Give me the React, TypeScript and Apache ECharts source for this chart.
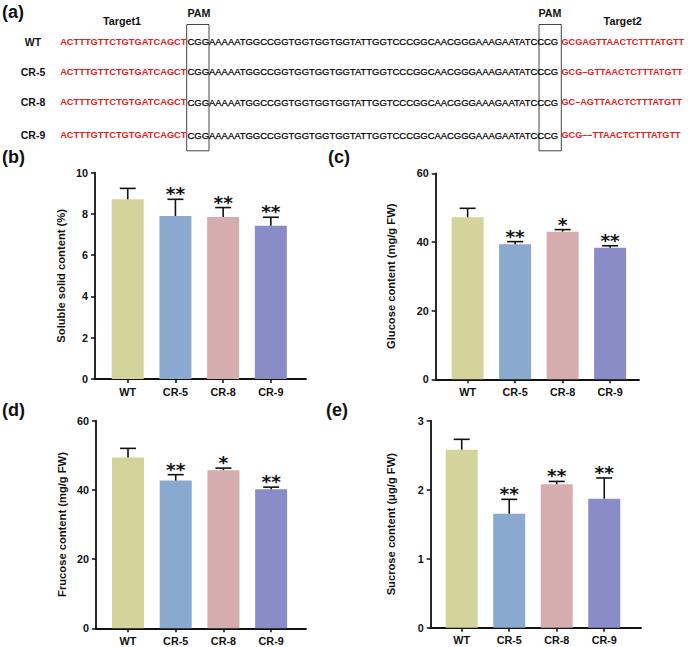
import React, { useEffect, useRef } from "react";
import * as echarts from "echarts";

// ---------- data ----------
const categories = ["WT", "CR-5", "CR-8", "CR-9"];
const barColors = ["#d3d49b", "#89a9cf", "#d6adae", "#8a8cc8"];

const solubleMean = [8.71, 7.9, 7.85, 7.43];
const solubleSd = [0.53, 0.81, 0.46, 0.41];
const solubleStars = ["", "**", "**", "**"];

const glucoseMean = [47.2, 39.3, 43.0, 38.3];
const glucoseSd = [2.6, 0.8, 0.6, 0.6];
const glucoseStars = ["", "**", "*", "**"];

const fructoseMean = [49.4, 42.7, 45.7, 40.2];
const fructoseSd = [2.6, 1.7, 0.6, 0.6];
const fructoseStars = ["", "**", "*", "**"];

const sucroseMean = [2.58, 1.65, 2.08, 1.87];
const sucroseSd = [0.15, 0.21, 0.04, 0.3];
const sucroseStars = ["", "**", "**", "**"];

const rowLabels = ["WT", "CR-5", "CR-8", "CR-9"];
const target1 = "ACTTTGTTCTGTGATCAGCT";
const pam1 = "CGG";
const spacer = "AAAAATGGCCGGTGGTGGTGGTATTGGTCCCGGCAACGGGAAAGAATATC";
const pam2 = "CCG";
const target2 = [
  "GCGAGTTAACTCTTTATGTT",
  "GCG\u2013GTTAACTCTTTATGTT",
  "GC\u2013AGTTAACTCTTTATGTT",
  "GCG\u2013\u2013TTAACTCTTTATGTT",
];

// ---------- layout ----------
const FONT = "Liberation Sans, Arial, sans-serif";
const rowY = [41.5, 71.5, 102, 135];

const panels = [
  { tag: "(b)", tagX: 2, tagY: 157, grid: { left: 95, top: 172.7, width: 211, height: 206.3 }, xMin: 0.314, xMax: 4.737, yMax: 10, yInt: 2, name: "Soluble solid content (%)", nameGap: 29, mean: solubleMean, sd: solubleSd, stars: solubleStars },
  { tag: "(c)", tagX: 328, tagY: 157, grid: { left: 435.7, top: 173.3, width: 203.3, height: 206 }, xMin: 0.328, xMax: 4.608, yMax: 60, yInt: 20, name: "Glucose content (mg/g FW)", nameGap: 39, mean: glucoseMean, sd: glucoseSd, stars: glucoseStars },
  { tag: "(d)", tagX: 2, tagY: 410, grid: { left: 96, top: 420.7, width: 210, height: 207.6 }, xMin: 0.329, xMax: 4.731, yMax: 60, yInt: 20, name: "Frucose content (mg/g FW)", nameGap: 28.5, mean: fructoseMean, sd: fructoseSd, stars: fructoseStars },
  { tag: "(e)", tagX: 326, tagY: 410, grid: { left: 430.7, top: 420.7, width: 210.3, height: 207 }, xMin: 0.347, xMax: 4.774, yMax: 3, yInt: 1, name: "Sucrose content (\u03bcg/g FW)", nameGap: 34, mean: sucroseMean, sd: sucroseSd, stars: sucroseStars },
];

function buildOption() {
  const grid: any[] = [];
  const xAxis: any[] = [];
  const yAxis: any[] = [];
  const series: any[] = [];
  const graphic: any[] = [];

  panels.forEach((p, gi) => {
    grid.push({ ...p.grid, containLabel: false });
    xAxis.push({
      type: "value",
      gridIndex: gi,
      min: p.xMin,
      max: p.xMax,
      splitLine: { show: false },
      axisLine: { show: true, onZero: false, lineStyle: { color: "#111", width: 1.8 } },
      axisTick: { show: true, customValues: [1, 2, 3, 4], length: 4, lineStyle: { color: "#111", width: 1.5 } },
      axisLabel: {
        show: true,
        customValues: [1, 2, 3, 4],
        formatter: (v: number) => categories[Math.round(v) - 1] ?? "",
        color: "#111",
        fontSize: 10.8,
        fontWeight: "bold",
        fontFamily: FONT,
        margin: 7,
      },
    });
    yAxis.push({
      type: "value",
      gridIndex: gi,
      min: 0,
      max: p.yMax,
      interval: p.yInt,
      name: p.name,
      nameLocation: "middle",
      nameGap: p.nameGap,
      nameRotate: 90,
      nameTextStyle: { color: "#111", fontSize: 11.2, fontWeight: "bold", fontFamily: FONT },
      splitLine: { show: false },
      axisLine: { show: true, onZero: false, lineStyle: { color: "#111", width: 1.8 } },
      axisTick: { show: true, length: 4, lineStyle: { color: "#111", width: 1.5 } },
      axisLabel: { color: "#111", fontSize: 10.8, fontWeight: "bold", fontFamily: FONT, margin: 7 },
    });
    series.push({
      type: "bar",
      xAxisIndex: gi,
      yAxisIndex: gi,
      barWidth: 32,
      data: p.mean.map((v, i) => ({ value: [i + 1, v], itemStyle: { color: barColors[i] } })),
    });
    const stars = p.stars;
    series.push({
      type: "custom",
      xAxisIndex: gi,
      yAxisIndex: gi,
      encode: { x: 0, y: 1 },
      z: 5,
      data: p.mean.map((v, i) => [i + 1, v, p.sd[i]]),
      renderItem: (params: any, api: any) => {
        const x = api.value(0);
        const m = api.value(1);
        const s = api.value(2);
        const base = api.coord([x, m]);
        const top = api.coord([x, m + s]);
        const children: any[] = [
          { type: "line", shape: { x1: base[0], y1: base[1], x2: top[0], y2: top[1] }, style: { stroke: "#111", lineWidth: 1.6 } },
          { type: "line", shape: { x1: top[0] - 8, y1: top[1], x2: top[0] + 8, y2: top[1] }, style: { stroke: "#111", lineWidth: 1.6 } },
        ];
        const star = stars[params.dataIndex];
        if (star) {
          children.push({
            type: "text",
            x: top[0],
            y: top[1] - 5.5,
            style: { text: star, fill: "#111", fontSize: 18.5, fontWeight: "bold", fontFamily: "DejaVu Sans", textAlign: "center", textVerticalAlign: "middle" },
          });
        }
        return { type: "group", children };
      },
    });
    graphic.push({
      type: "text",
      x: p.tagX,
      y: p.tagY,
      style: { text: p.tag, fill: "#111", fontSize: 18, fontWeight: "bold", fontFamily: FONT, textVerticalAlign: "middle" },
    });
  });

  // ---- panel (a): sequences ----
  graphic.push({ type: "text", x: 2, y: 12, style: { text: "(a)", fill: "#111", fontSize: 18, fontWeight: "bold", fontFamily: FONT, textVerticalAlign: "middle" } });
  graphic.push({ type: "text", x: 122, y: 21, style: { text: "Target1", fill: "#111", fontSize: 10.8, fontWeight: "bold", fontFamily: FONT, textAlign: "center", textVerticalAlign: "middle" } });
  graphic.push({ type: "text", x: 622.7, y: 21, style: { text: "Target2", fill: "#111", fontSize: 10.8, fontWeight: "bold", fontFamily: FONT, textAlign: "center", textVerticalAlign: "middle" } });
  graphic.push({ type: "text", x: 199, y: 12.5, style: { text: "PAM", fill: "#111", fontSize: 10.7, fontWeight: "bold", fontFamily: FONT, textAlign: "center", textVerticalAlign: "middle" } });
  graphic.push({ type: "text", x: 550, y: 12.5, style: { text: "PAM", fill: "#111", fontSize: 10.7, fontWeight: "bold", fontFamily: FONT, textAlign: "center", textVerticalAlign: "middle" } });
  graphic.push({ type: "rect", shape: { x: 186.7, y: 24.5, width: 22.3, height: 126.3 }, style: { fill: "none", stroke: "#444", lineWidth: 1 } });
  graphic.push({ type: "rect", shape: { x: 539, y: 24.5, width: 22.3, height: 126.3 }, style: { fill: "none", stroke: "#444", lineWidth: 1 } });

  rowLabels.forEach((lab, r) => {
    const y = rowY[r];
    graphic.push({ type: "text", x: 33, y, style: { text: lab, fill: "#111", fontSize: 10.5, fontWeight: "bold", fontFamily: FONT, textAlign: "center", textVerticalAlign: "middle" } });
    graphic.push({ type: "text", x: 186.5, y, style: { text: target1, fill: "#e0201c", fontSize: 9.3, fontWeight: "bold", fontFamily: FONT, textAlign: "right", textVerticalAlign: "middle" } });
    graphic.push({ type: "text", x: 187.5, y, style: { text: pam1 + spacer + pam2, fill: "#000", fontSize: 9.45, fontFamily: FONT, textAlign: "left", textVerticalAlign: "middle", stroke: "#000", lineWidth: 0.25 } });
    graphic.push({ type: "text", x: 561.5, y, style: { text: target2[r], fill: "#e0201c", fontSize: 9.15, fontWeight: "bold", fontFamily: FONT, textAlign: "left", textVerticalAlign: "middle" } });
  });

  return {
    animation: false,
    backgroundColor: "#ffffff",
    textStyle: { fontFamily: FONT },
    grid,
    xAxis,
    yAxis,
    series,
    graphic,
  };
}

export default function App() {
  const ref = useRef<HTMLDivElement>(null);
  useEffect(() => {
    if (!ref.current) return;
    const chart = echarts.init(ref.current, null, { renderer: "svg" });
    chart.setOption(buildOption() as any);
    return () => chart.dispose();
  }, []);
  return <div ref={ref} style={{ position: "absolute", left: 0, top: 0, width: 688, height: 647, background: "#fff" }} />;
}
